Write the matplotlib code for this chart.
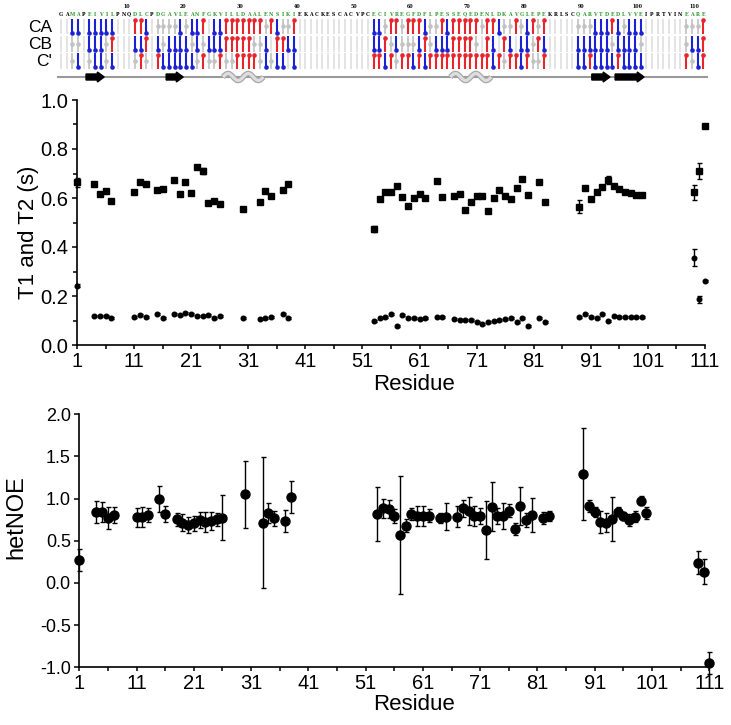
import numpy as np
import matplotlib
matplotlib.use("Agg")
import matplotlib.pyplot as plt
from matplotlib.patches import FancyArrow

plt.rcParams['font.family'] = ['Liberation Sans', 'DejaVu Sans']
plt.rcParams['axes.unicode_minus'] = False

# protein sequence, residues -1 .. 112
sequence = ("GAMAPEIVILPNQ" "DLCPDGAVLEANFGKV" "ILLDAALENSIKI" "EKACKESCACVPC"
            "ECIVREGFDFLPESSEQEDENLDKAVGLEPE" "KRLSCQARVTDEDLVVEIPRTVINEARE")
seq_first = -1

# chemical shift index for residues 1..112 (b = blue, r = red, g = grey, . = none)
csi_ca = ("bb.bbbbb.." ".rrb.ggggb" "gbbr.bbrrr" "rrrrgrbggr" ".........."
          "...bbgrrgr" "rrbggrbrrr" "rrgrrbggrg" "brgr.....g" "ggbbbrbgbb"
          "b.......gg" "gr")
csi_cb = ("gg.bbbgr.." ".bbr.bgbbb" "bgbgbbbrrr" "rrggb.rrbb" ".........."
          "...bbrgbgg" "gbrgbbbrrr" "rg.rb.rb.b" "bgrb.....b" "bbbbbgbbbb"
          "g.......gb" "br")
csi_co = ("gb.gbbgb.." ".grg.rbbbb" "bbgrggrggr" "rrrgbgbb.b" ".........."
          "...rrbrgrr" "brbrrrrrrr" "rrrrbrgrrb" "rggr.....b" "brbbbbrbbb"
          "b.......rg" "br")

# secondary structure (residue ranges)
strands = [(3.4, 6.6), (17.5, 20.5), (92.4, 95.6), (96.5, 101.6)]
helices = [(27.5, 34.6), (67.5, 74.7)]

# relaxation data
residues = [1, 4, 5, 6, 7, 11, 12, 13, 15, 16, 18, 19, 20, 21, 22, 23, 24, 25, 26, 30,
            33, 34, 35, 37, 38,
            53, 54, 55, 56, 57, 58, 59, 60, 61, 62, 64, 65, 67, 68, 69, 70, 71, 72, 73, 74,
            75, 76, 77, 78, 79, 80, 82, 83,
            89, 90, 91, 92, 93, 94, 95, 96, 97, 98, 99, 100,
            109, 110, 111]

t1 = [0.664, 0.656, 0.616, 0.629, 0.589, 0.623, 0.667, 0.656, 0.631, 0.635, 0.672, 0.615,
      0.664, 0.622, 0.727, 0.711, 0.578, 0.588, 0.576, 0.554, 0.584, 0.629, 0.608, 0.631, 0.656,
      0.473, 0.596, 0.623, 0.623, 0.649, 0.605, 0.569, 0.601, 0.615, 0.599, 0.669, 0.604,
      0.608, 0.615, 0.551, 0.582, 0.608, 0.610, 0.547, 0.599, 0.633, 0.608, 0.595, 0.639,
      0.678, 0.612, 0.667, 0.585,
      0.565, 0.639, 0.595, 0.623, 0.644, 0.673, 0.649, 0.637, 0.626, 0.619, 0.612, 0.612,
      0.623, 0.710, 0.895]
t1_err = [0.018, 0.006, 0.006, 0.006, 0.006, 0.006, 0.006, 0.006, 0.006, 0.006, 0.006, 0.006,
          0.006, 0.006, 0.006, 0.012, 0.006, 0.006, 0.006, 0.006, 0.006, 0.006, 0.006, 0.006, 0.006,
          0.012, 0.006, 0.006, 0.006, 0.010, 0.006, 0.006, 0.006, 0.006, 0.006, 0.006, 0.006,
          0.006, 0.006, 0.006, 0.006, 0.006, 0.006, 0.008, 0.006, 0.006, 0.006, 0.006, 0.006,
          0.006, 0.006, 0.006, 0.006,
          0.026, 0.006, 0.006, 0.006, 0.006, 0.015, 0.006, 0.006, 0.006, 0.006, 0.006, 0.006,
          0.030, 0.034, 0.008]

t2 = [0.242, 0.117, 0.120, 0.117, 0.112, 0.116, 0.122, 0.113, 0.125, 0.112, 0.127, 0.122,
      0.129, 0.127, 0.118, 0.120, 0.122, 0.109, 0.120, 0.109, 0.106, 0.112, 0.116, 0.125, 0.112,
      0.098, 0.109, 0.113, 0.125, 0.079, 0.122, 0.112, 0.109, 0.105, 0.109, 0.116, 0.116,
      0.105, 0.101, 0.101, 0.101, 0.095, 0.084, 0.095, 0.099, 0.102, 0.105, 0.109, 0.095,
      0.109, 0.079, 0.109, 0.095,
      0.113, 0.125, 0.113, 0.109, 0.125, 0.098, 0.120, 0.113, 0.113, 0.113, 0.113, 0.116,
      0.356, 0.186, 0.261]
t2_err = [0.005, 0.004, 0.004, 0.004, 0.004, 0.004, 0.004, 0.004, 0.004, 0.004, 0.004, 0.004,
          0.004, 0.004, 0.004, 0.004, 0.004, 0.004, 0.004, 0.004, 0.004, 0.004, 0.004, 0.004, 0.004,
          0.004, 0.004, 0.004, 0.004, 0.004, 0.004, 0.004, 0.004, 0.004, 0.004, 0.004, 0.004,
          0.004, 0.004, 0.004, 0.004, 0.004, 0.004, 0.004, 0.004, 0.004, 0.004, 0.004, 0.004,
          0.004, 0.004, 0.004, 0.004,
          0.004, 0.004, 0.004, 0.004, 0.004, 0.004, 0.004, 0.004, 0.004, 0.004, 0.004, 0.004,
          0.034, 0.016, 0.004]

het_noe = [0.273, 0.846, 0.846, 0.767, 0.806, 0.779, 0.779, 0.806, 0.996, 0.818, 0.755, 0.715,
           0.688, 0.708, 0.747, 0.727, 0.735, 0.755, 0.775, 1.051, 0.715, 0.826, 0.767, 0.739, 1.016,
           0.818, 0.885, 0.877, 0.794, 0.569, 0.680, 0.818, 0.794, 0.794, 0.798, 0.767, 0.787,
           0.787, 0.885, 0.854, 0.794, 0.794, 0.628, 0.905, 0.794, 0.794, 0.858, 0.640, 0.913,
           0.747, 0.806, 0.767, 0.794,
           1.292, 0.913, 0.846, 0.727, 0.715, 0.759, 0.846, 0.794, 0.747, 0.787, 0.976, 0.826,
           0.241, 0.134, -0.945]
het_noe_err = [0.13, 0.13, 0.12, 0.13, 0.09, 0.11, 0.12, 0.08, 0.15, 0.09, 0.08, 0.10,
               0.09, 0.09, 0.10, 0.12, 0.11, 0.08, 0.27, 0.40, 0.78, 0.12, 0.09, 0.13, 0.19,
               0.32, 0.11, 0.11, 0.08, 0.70, 0.08, 0.07, 0.12, 0.12, 0.08, 0.06, 0.16,
               0.12, 0.10, 0.17, 0.12, 0.10, 0.34, 0.29, 0.09, 0.15, 0.08, 0.07, 0.23,
               0.08, 0.20, 0.07, 0.06,
               0.54, 0.07, 0.06, 0.13, 0.11, 0.26, 0.05, 0.05, 0.07, 0.07, 0.05, 0.07,
               0.14, 0.15, 0.13]

W, H = 731, 725
fig = plt.figure(figsize=(W / 100, H / 100), dpi=100)

# ---- top strip: sequence + CSI lollipops + secondary structure ----
blue = '#1c22d4'
red = '#e8242c'
ax_s = fig.add_axes([0, 1 - 90 / H, 1, 90 / H])
ax_s.set_xlim((0 - 66.7) / 5.683, (W - 66.7) / 5.683)
ax_s.set_ylim(90, 0)
ax_s.axis('off')

all_res = np.arange(seq_first, seq_first + len(sequence))
has_data = set()
rows = [("CA", csi_ca, 18.5), ("CB", csi_cb, 36), ("C'", csi_co, 53)]
hrow = 15.5
for name, codes, top in rows:
    ax_s.vlines(all_res, top, top + hrow, color='#dcdcdc', lw=1.1, zorder=1)
    res = np.arange(1, len(codes) + 1)
    c = np.array(list(codes))
    b, r, g = res[c == 'b'], res[c == 'r'], res[c == 'g']
    has_data.update(res[c != '.'].tolist())
    ax_s.vlines(b, top, top + hrow - 1.5, color=blue, lw=1.5, zorder=2)
    ax_s.plot(b, np.full(len(b), top + hrow - 1.5), 'o', color=blue, ms=3.3, mec='none', zorder=3)
    ax_s.vlines(r, top + 1.5, top + hrow, color=red, lw=1.5, zorder=2)
    ax_s.plot(r, np.full(len(r), top + 1.5), 'o', color=red, ms=3.3, mec='none', zorder=3)
    ax_s.vlines(g, top, top + hrow, color='#c8c8c8', lw=1.3, zorder=2)
    ax_s.plot(g, np.full(len(g), top + hrow / 2), 'o', color='#c2c2c2', ms=3.3, mec='none', zorder=3)
    ax_s.text((52 - 66.7) / 5.683, top + hrow / 2 + 1, name, ha='right', va='center',
              fontsize=12.5, color='black')

for res_i, aa in zip(all_res, sequence):
    col = '#2f9a2f' if res_i in has_data else 'black'
    ax_s.text(res_i, 14, aa, ha='center', va='center', fontsize=3.4,
              fontweight='bold', family='DejaVu Serif', color=col)
for n in range(10, 111, 10):
    ax_s.text(n + 0.5, 7, str(n), ha='center', va='center', fontsize=3.4,
              fontweight='bold', family='DejaVu Serif')

ax_s.plot([-1.5, 112.7], [77, 77], color='#999999', lw=1.5, zorder=1)
for x0, x1 in strands:
    ax_s.add_patch(FancyArrow(x0, 77, x1 - x0, 0, width=6, head_width=10,
                              head_length=1.2, length_includes_head=True,
                              color='black', zorder=3))
for x0, x1 in helices:
    xx = np.linspace(x0, x1, 80)
    yy = 77 - 3.5 * np.sin(2 * np.pi * 2 * (xx - x0) / (x1 - x0))
    ax_s.plot(xx, yy, color='#a8a8a8', lw=4, solid_capstyle='butt', zorder=2)
    ax_s.plot(xx, yy, color='#dedede', lw=2.2, solid_capstyle='butt', zorder=2)

narrow = ['Liberation Sans Narrow', 'Liberation Sans']


def style_axis(ax, ylab_size, xtick_size, ytick_size):
    for s in ['top', 'right']:
        ax.spines[s].set_visible(False)
    for s in ['left', 'bottom']:
        ax.spines[s].set_linewidth(1.2)
    ax.set_xlim(1, 111)
    ax.set_xticks(np.arange(1, 112, 10))
    ax.set_xticks(np.arange(6, 107, 10), minor=True)
    ax.tick_params(axis='x', which='both', direction='out', length=3.2, width=1.1,
                   labelsize=xtick_size, pad=1.5)
    ax.tick_params(axis='y', which='major', direction='out', length=3.6, width=1.1,
                   labelsize=ytick_size, pad=2.5)
    ax.tick_params(axis='y', which='minor', direction='out', length=3.0, width=1.1)
    for lab in ax.get_xticklabels():
        lab.set_family(narrow)


# ---- T1 / T2 panel ----
ax1 = fig.add_axes([77 / W, 1 - 345 / H, 628 / W, 245 / H])
ax1.errorbar(residues, t1, yerr=t1_err, fmt='s', color='black', ms=3.8,
             capsize=1.8, elinewidth=1, capthick=1, clip_on=False)
ax1.errorbar(residues, t2, yerr=t2_err, fmt='o', color='black', ms=3.3,
             capsize=1.8, elinewidth=1, capthick=1, clip_on=False)
ax1.set_ylim(0, 1.0)
ax1.set_yticks(np.arange(0, 1.01, 0.2))
ax1.set_yticks(np.arange(0.1, 1.0, 0.2), minor=True)
ax1.yaxis.set_major_formatter(matplotlib.ticker.FormatStrFormatter('%.1f'))
style_axis(ax1, 16, 14.5, 14.5)
ax1.set_ylabel('T1 and T2 (s)', fontsize=16)
ax1.yaxis.set_label_coords(-0.06, 0.46)
ax1.set_xlabel('Residue', fontsize=16)
ax1.xaxis.set_label_coords(0.537, -0.12)

# ---- hetNOE panel ----
ax2 = fig.add_axes([79.3 / W, 1 - 667.3 / H, 630 / W, 253 / H])
ax2.errorbar(residues, het_noe, yerr=het_noe_err, fmt='o', color='black', ms=6.5,
             capsize=1.8, elinewidth=1, capthick=1, clip_on=False)
ax2.set_ylim(-1.0, 2.0)
ax2.set_yticks(np.arange(-1.0, 2.01, 0.5))
ax2.yaxis.set_major_formatter(matplotlib.ticker.FormatStrFormatter('%.1f'))
style_axis(ax2, 17, 14.5, 13)
ax2.set_ylabel('hetNOE', fontsize=17)
ax2.yaxis.set_label_coords(-0.083, 0.594)
ax2.set_xlabel('Residue', fontsize=16)
ax2.xaxis.set_label_coords(0.531, -0.105)

fig.savefig('out.png', dpi=100)
